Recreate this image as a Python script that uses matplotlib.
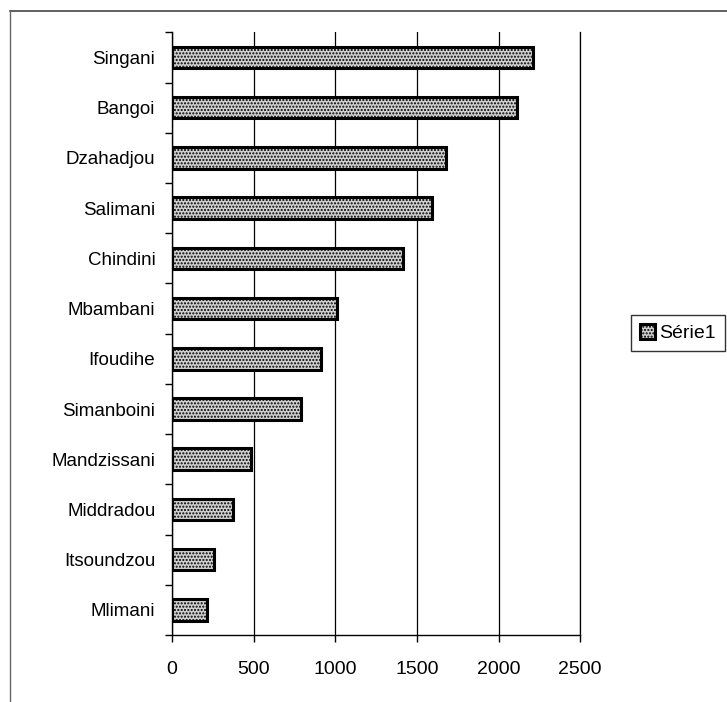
import matplotlib
matplotlib.use('Agg')
import matplotlib.pyplot as plt
from matplotlib.lines import Line2D

plt.rcParams['font.family'] = ['Liberation Sans', 'DejaVu Sans']
plt.rcParams['hatch.linewidth'] = 1.0

# data, bottom to top
villages = ['Mlimani', 'Itsoundzou', 'Middradou', 'Mandzissani', 'Simanboini',
            'Ifoudihe', 'Mbambani', 'Chindini', 'Salimani', 'Dzahadjou',
            'Bangoi', 'Singani']
values = [214, 258, 372, 482, 790, 913, 1011, 1415, 1593, 1680, 2112, 2212]
xticks = [0, 500, 1000, 1500, 2000, 2500]

fig = plt.figure(figsize=(7.27, 7.02), dpi=100)
ax = fig.add_axes([0.2366, 0.0954, 0.5614, 0.8586])

ax.barh(range(len(villages)), values, height=0.43, color='#d0d0d0',
        edgecolor='black', linewidth=2.2, hatch='.....', zorder=3, label='Série1')

ax.set_xlim(0, 2500)
ax.set_ylim(-0.5, len(villages) - 0.5)
ax.set_xticks(xticks)
ax.set_xticklabels([str(t) for t in xticks], fontsize=14)
ax.set_yticks(range(len(villages)))
ax.set_yticklabels(villages, fontsize=13.5)
ax.set_yticks([i - 0.5 for i in range(len(villages) + 1)], minor=True)
ax.tick_params(axis='y', which='major', length=0, pad=12)
ax.tick_params(axis='y', which='minor', length=5, width=1)
ax.tick_params(axis='x', length=5, width=1, pad=14)
ax.xaxis.grid(True, color='black', linewidth=0.9, zorder=0)

ax.spines['top'].set_visible(False)
ax.spines['right'].set_linewidth(0.9)
for s in ['left', 'bottom']:
    ax.spines[s].set_linewidth(1.0)

leg = fig.legend(loc='center left', bbox_to_anchor=(631 / 727, 1 - 333 / 702),
                 fontsize=14, frameon=True, fancybox=False, edgecolor='black',
                 handlelength=0.8, handleheight=0.8, handletextpad=0.2,
                 borderpad=0.45, borderaxespad=0)
leg.get_frame().set_linewidth(1.0)

# outer chart border (top and left only)
fig.add_artist(Line2D([10 / 727, 1], [1 - 11 / 702, 1 - 11 / 702],
                      color='#444444', linewidth=1.2, transform=fig.transFigure))
fig.add_artist(Line2D([10 / 727, 10 / 727], [0, 1 - 11 / 702],
                      color='#666666', linewidth=1.0, transform=fig.transFigure))

fig.savefig('out.png', dpi=100)
